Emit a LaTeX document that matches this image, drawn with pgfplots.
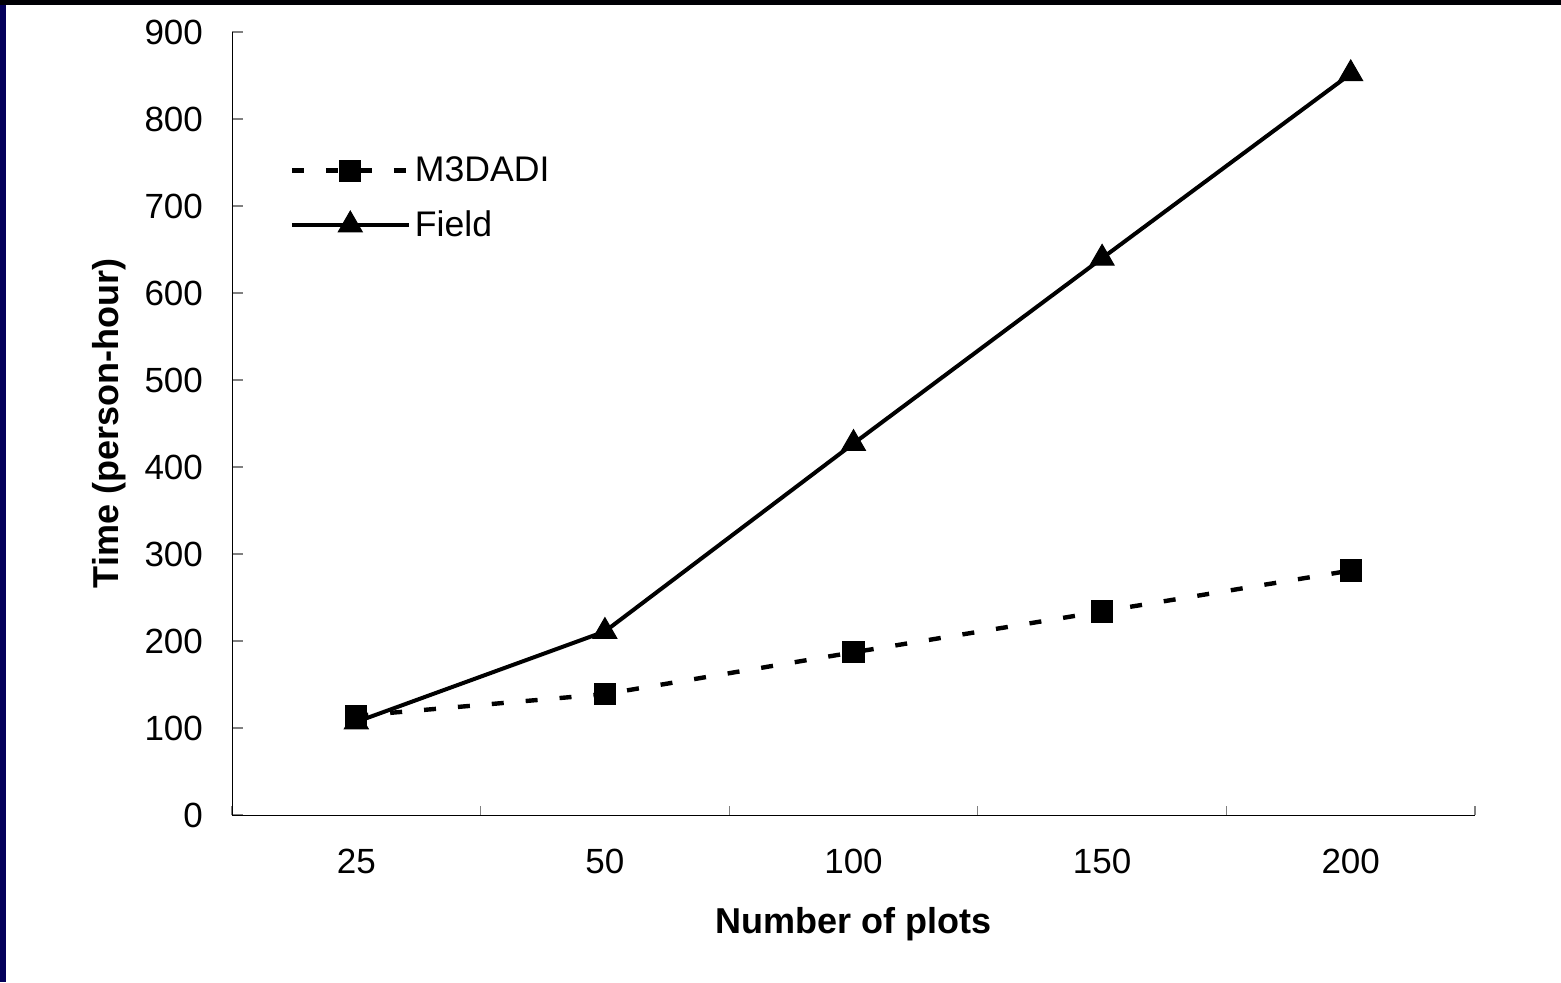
\documentclass[border=0pt]{standalone}
\usepackage{pgfplots}
\pgfplotsset{compat=1.18}
\usepackage{fontspec}
\setmainfont{Liberation Sans}
\definecolor{navyb}{RGB}{4,0,90}
\begin{document}
\begin{tikzpicture}[x=1pt,y=1pt]
\fill[white] (0,0) rectangle (780.5,491);
\fill[navyb] (0,0) rectangle (3,491);
\fill[black!95!navyb] (0,488.5) rectangle (780.5,491);
\begin{axis}[
  at={(116pt,83.5pt)}, anchor=south west,
  scale only axis, width=621.5pt, height=391.5pt,
  xmin=-0.5, xmax=4.5, ymin=0, ymax=900,
  axis x line*=bottom, axis y line*=left,
  axis line style={line width=0.5pt, black, -},
  xtick={0,1,2,3,4}, xticklabels={25,50,100,150,200},
  major x tick style={draw=none},
  minor xtick={-0.5,0.5,1.5,2.5,3.5,4.5},
  minor tick length=4.5pt,
  minor x tick style={gray, line width=0.6pt},
  ytick={0,100,...,900},
  major tick length=5.5pt,
  y tick style={gray, line width=0.6pt},
  tick align=inside,
  /pgf/number format/assume math mode=true,
  tick label style={font=\fontsize{17.5}{20}\selectfont, black},
  yticklabel style={xshift=-11pt},
  xticklabel style={yshift=-13.7pt},
  xlabel={\textbf{Number of plots}},
  ylabel={\textbf{Time (person-hour)}},
  label style={font=\fontsize{18}{21}\selectfont},
  xlabel style={yshift=-9.5pt},
  ylabel style={yshift=2.5pt},
  legend cell align=left,
  legend style={draw=none, fill=none, at={(0.046,0.788)}, anchor=west,
    inner sep=0pt, row sep=9pt, font=\fontsize{17.8}{20}\selectfont,
    nodes={inner sep=2pt}},
  legend image code/.code={%
    \draw[mark repeat=2,mark phase=2,#1] plot coordinates {(0pt,0pt) (29.25pt,0pt) (58.5pt,0pt)};},
]
\addplot[black, line width=2.2pt, dash pattern=on 6pt off 11pt,
  mark=square*, mark size=5.3pt, mark options={solid, line width=0.5pt}]
  coordinates {(0,114) (1,139) (2,187) (3,234) (4,281)};
\addlegendentry{M3DADI}
\addplot[black, line width=2pt,
  mark=triangle*, mark size=6.9pt, mark options={solid, line width=0.5pt}]
  coordinates {(0,107) (1,211) (2,427) (3,640) (4,852)};
\addlegendentry{Field}
\end{axis}
\end{tikzpicture}
\end{document}
